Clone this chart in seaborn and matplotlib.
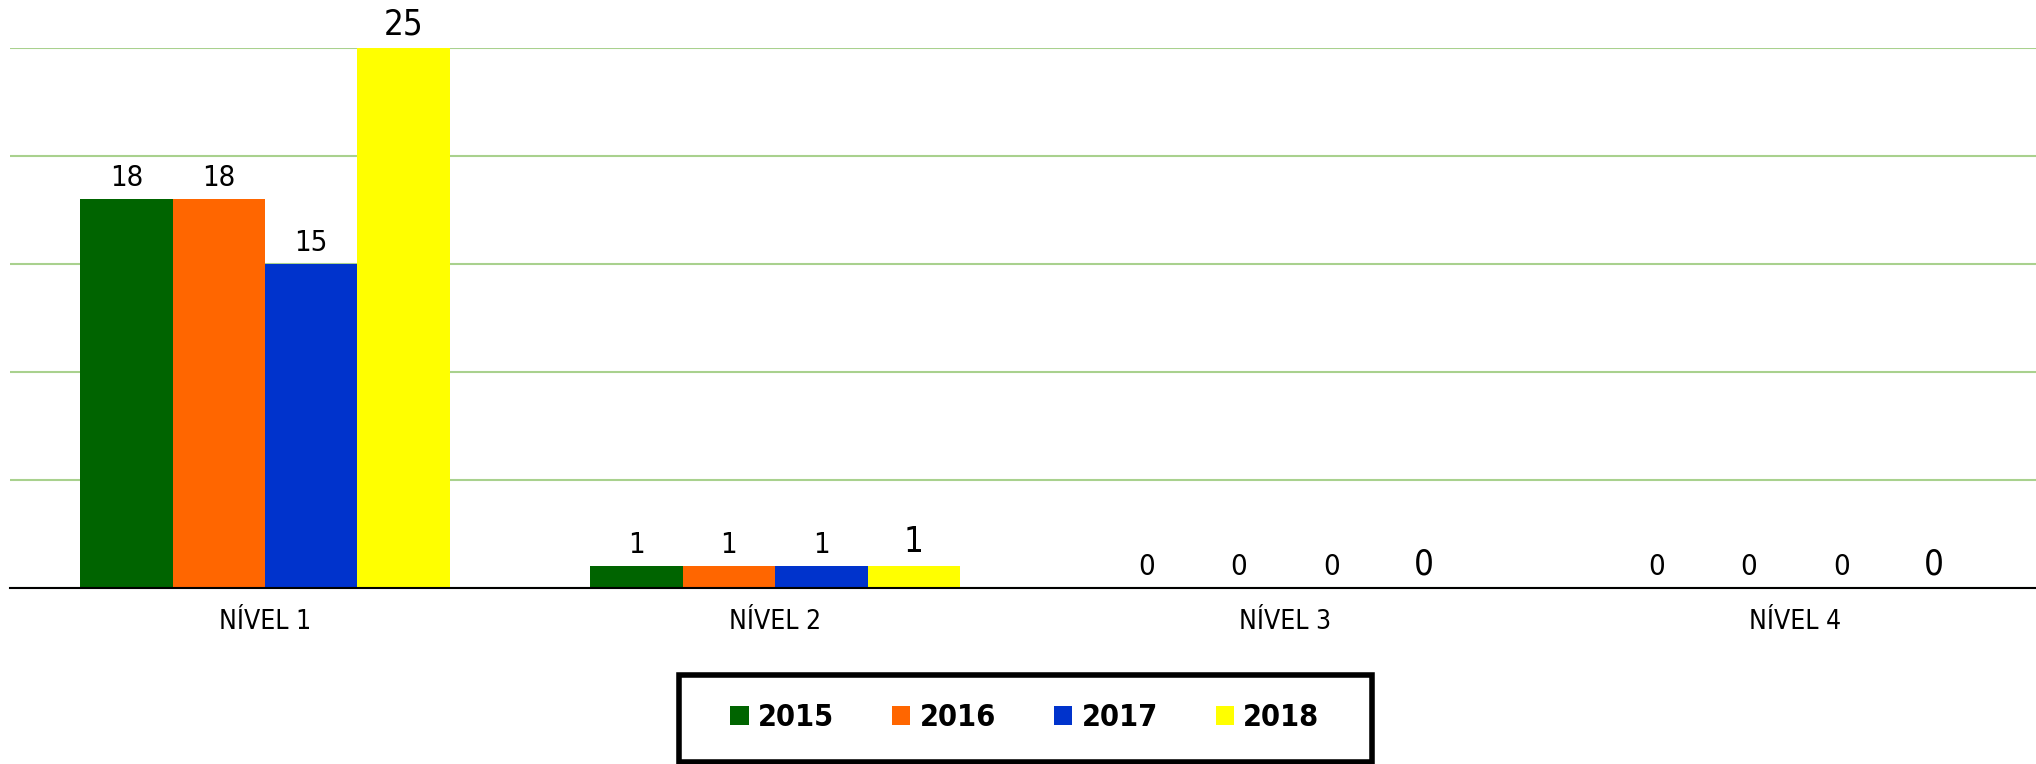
import matplotlib
matplotlib.use("Agg")
import matplotlib.pyplot as plt
import seaborn as sns
import pandas as pd
from matplotlib.patches import Rectangle

categories = ["NÍVEL 1", "NÍVEL 2", "NÍVEL 3", "NÍVEL 4"]
years = ["2015", "2016", "2017", "2018"]
values_2015 = [18, 1, 0, 0]
values_2016 = [18, 1, 0, 0]
values_2017 = [15, 1, 0, 0]
values_2018 = [25, 1, 0, 0]
colors = ["#006400", "#FF6600", "#0033CC", "#FFFF00"]

series = {"2015": values_2015, "2016": values_2016, "2017": values_2017, "2018": values_2018}
rows = []
for y in years:
    for c, v in zip(categories, series[y]):
        rows.append({"nivel": c, "ano": y, "valor": v})
df = pd.DataFrame(rows)

sns.set_theme(style="white")
plt.rcParams['font.family'] = ['DejaVu Sans']
plt.rcParams['font.stretch'] = 'condensed'
plt.rcParams['text.color'] = 'black'
plt.rcParams['xtick.color'] = 'black'

W, H = 2036, 764
fig = plt.figure(figsize=(W / 100, H / 100), dpi=100)
ax = fig.add_axes([10 / W, 1 - 588 / H, 1 - 10 / W, (588 - 48) / H])

sns.barplot(data=df, x="nivel", y="valor", hue="ano", order=categories,
            hue_order=years, palette=colors, width=0.725, gap=0,
            errorbar=None, saturation=1, ax=ax, legend=False,
            edgecolor="none", linewidth=0)

ax.set_ylim(0, 25)
ax.set_xlim(-0.5, 3.472)
ax.set_yticks([0, 5, 10, 15, 20, 25])
ax.set_yticklabels([])
ax.tick_params(axis="y", length=0)
ax.yaxis.grid(True, color="#A9D18E", linewidth=1.5)
ax.set_axisbelow(True)
ax.set_xlabel("")
ax.set_ylabel("")
for s in ["top", "right", "left"]:
    ax.spines[s].set_visible(False)
ax.spines["bottom"].set_color("black")
ax.spines["bottom"].set_linewidth(1.5)
ax.spines["bottom"].set_zorder(5)

ax.set_xticks(range(len(categories)))
ax.set_xticklabels(categories, fontsize=19, fontstretch="condensed")
ax.tick_params(axis="x", which="major", length=0, pad=15, colors="black")
ax.set_xticks([-0.5, 0.5, 1.5, 2.5], minor=True)
ax.tick_params(axis="x", which="minor", length=10, width=1, color="black", direction="out")

for i, cont in enumerate(ax.containers):
    fs = 25 if i == 3 else 21
    ax.bar_label(cont, labels=[str(v) for v in series[years[i]]],
                 fontsize=fs, padding=5, color="black", clip_on=False,
                 fontstretch="condensed")

# legend
handles = [Rectangle((0, 0), 1, 1, facecolor=c, edgecolor="none") for c in colors]
fig.legend(handles, years, loc="center", bbox_to_anchor=(1025 / W, 1 - 718 / H),
           ncol=4, frameon=False,
           prop={"weight": "bold", "size": 22, "stretch": "condensed"},
           handlelength=0.6, handleheight=0.6, handletextpad=0.3,
           columnspacing=1.9)
fig.patches.append(Rectangle((679 / W, 1 - 762 / H), (1372 - 679) / W, (762 - 675) / H,
                             transform=fig.transFigure, fill=False,
                             edgecolor="black", linewidth=4))

fig.savefig("out.png", dpi=100)
